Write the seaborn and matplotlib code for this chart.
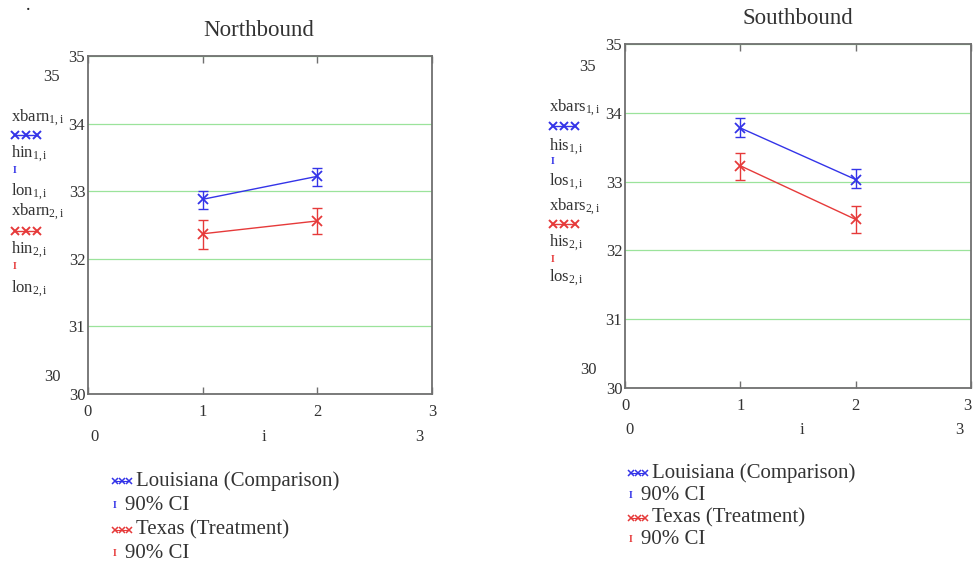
import numpy as np
import pandas as pd
import matplotlib
matplotlib.use("Agg")
import matplotlib.pyplot as plt
import seaborn as sns
from matplotlib.lines import Line2D

# ---------------- data ----------------
x_index = [1, 2]
states = ["Louisiana (Comparison)", "Texas (Treatment)"]
# Northbound means and 90% CI bounds
north_la_mean = [32.88, 33.22]
north_la_hi = [33.01, 33.35]
north_la_lo = [32.74, 33.08]
north_tx_mean = [32.37, 32.56]
north_tx_hi = [32.57, 32.75]
north_tx_lo = [32.15, 32.36]
# Southbound means and 90% CI bounds
south_la_mean = [33.78, 33.03]
south_la_hi = [33.92, 33.18]
south_la_lo = [33.65, 32.90]
south_tx_mean = [33.23, 32.45]
south_tx_hi = [33.42, 32.65]
south_tx_lo = [33.03, 32.26]

panel_titles = ["Northbound", "Southbound"]
y_ticks = [30, 31, 32, 33, 34, 35]
x_ticks = [0, 1, 2, 3]
side_labels_north = ["xbarn", "hin", "lon"]
side_labels_south = ["xbars", "his", "los"]
legend_labels = ["Louisiana (Comparison)", "90% CI", "Texas (Treatment)", "90% CI"]

BLUE = "#3434e8"
RED = "#e63a3a"
TXT = "#333333"
GRID = "#9be39b"
SPINE = "#707070"

sns.set_theme(style="white")
plt.rcParams["font.family"] = ["Liberation Serif", "DejaVu Serif"]
plt.rcParams["mathtext.fontset"] = "custom"
plt.rcParams["mathtext.rm"] = "Liberation Serif"
plt.rcParams["mathtext.it"] = "Liberation Serif:italic"

W, H = 973, 575
fig = plt.figure(figsize=(W / 100, H / 100), dpi=100)
fig.patch.set_facecolor("white")


def fx(px):
    return px / W


def fy(py):
    return 1 - py / H


def make_df(la_m, la_h, la_l, tx_m, tx_h, tx_l):
    rows = []
    for st, m, h, l in [(states[0], la_m, la_h, la_l), (states[1], tx_m, tx_h, tx_l)]:
        for xi, mm, hh, ll in zip(x_index, m, h, l):
            rows.append({"i": xi, "mean": mm, "hi": hh, "lo": ll, "state": st})
    return pd.DataFrame(rows)


panels = [
    dict(rect=[fx(88), fy(394), fx(432) - fx(88), (394 - 56) / H],
         df=make_df(north_la_mean, north_la_hi, north_la_lo, north_tx_mean, north_tx_hi, north_tx_lo),
         title=panel_titles[0], title_xy=(259, 30), side=side_labels_north,
         side_x=11, side_y=[118, 135, 154, 170, 192, 212, 231, 250, 267, 289],
         outer=[(52, 77, "35"), (52, 377, "30")],
         row2=[(0.06, "0"), (1.53, "i"), (2.89, "3")], row2_y=-0.127,
         leg_x=112, leg_y=[481, 505, 530, 554]),
    dict(rect=[fx(625), fy(388), fx(971) - fx(625), (388 - 44) / H],
         df=make_df(south_la_mean, south_la_hi, south_la_lo, south_tx_mean, south_tx_hi, south_tx_lo),
         title=panel_titles[1], title_xy=(798, 19), side=side_labels_south,
         side_x=549, side_y=[108, 126, 147, 161, 182, 207, 224, 243, 259, 278],
         outer=[(588, 67, "35"), (588, 370, "30")],
         row2=[(0.04, "0"), (1.53, "i"), (2.9, "3")], row2_y=-0.122,
         leg_x=628, leg_y=[473, 496, 518, 540]),
]

for pi, p in enumerate(panels):
    ax = fig.add_axes(p["rect"])
    df = p["df"]
    sns.lineplot(data=df, x="i", y="mean", hue="state", style="state",
                 palette=[BLUE, RED], markers={states[0]: "x", states[1]: "x"},
                 dashes=False, markersize=7, markeredgewidth=1.3, linewidth=1.0,
                 legend=False, ax=ax, zorder=3)
    for ln in ax.lines:
        ln.set_markeredgecolor(ln.get_color())
    for st, col in zip(states, [BLUE, RED]):
        d = df[df["state"] == st]
        ax.errorbar(d["i"], d["mean"],
                    yerr=[d["mean"] - d["lo"], d["hi"] - d["mean"]],
                    fmt="none", ecolor=col, elinewidth=1.0, capsize=3.5, capthick=1.0, zorder=3)
    ax.set_xlim(0, 3)
    ax.set_ylim(30, 35)
    ax.set_yticks(y_ticks)
    ax.set_xticks(x_ticks)
    ax.set_xlabel("")
    ax.set_ylabel("")
    ax.grid(axis="y", color=GRID, linewidth=0.9)
    ax.grid(axis="x", visible=False)
    ax.tick_params(axis="y", length=0, pad=2, labelsize=12, labelcolor=TXT)
    ax.tick_params(axis="x", direction="in", length=5, width=1, color=SPINE,
                   top=True, bottom=True, pad=7, labelsize=12, labelcolor=TXT)
    if pi == 1:
        ax.get_xticklabels()[-1].set_horizontalalignment("right")
    for s in ax.spines.values():
        s.set_visible(True)
        s.set_color(SPINE)
        s.set_linewidth(1.3)
    ax.set_facecolor("white")

    # title
    fig.text(fx(p["title_xy"][0]), fy(p["title_xy"][1]), p["title"], ha="center", va="center",
             fontsize=16.5, color=TXT)
    # second row of x labels (limits and variable)
    for xv, t in p["row2"]:
        ax.text(xv, p["row2_y"], t, transform=ax.get_xaxis_transform(), ha="center", va="center",
                fontsize=12, color=TXT)
    # outer axis-limit labels
    for ox, oy, t in p["outer"]:
        fig.text(fx(ox), fy(oy), t, ha="center", va="center", fontsize=12, color=TXT)

    # side labels (variable names with markers)
    sy = p["side_y"]
    sx = p["side_x"]
    names = p["side"]
    entries = [
        ("txt", names[0] + r"$_{\mathrm{1,i}}$", TXT), ("xxx", None, BLUE),
        ("txt", names[1] + r"$_{\mathrm{1,i}}$", TXT), ("ci", None, BLUE),
        ("txt", names[2] + r"$_{\mathrm{1,i}}$", TXT),
        ("txt", names[0] + r"$_{\mathrm{2,i}}$", TXT), ("xxx", None, RED),
        ("txt", names[1] + r"$_{\mathrm{2,i}}$", TXT), ("ci", None, RED),
        ("txt", names[2] + r"$_{\mathrm{2,i}}$", TXT),
    ]
    for (kind, t, col), yy in zip(entries, sy):
        if kind == "txt":
            fig.text(fx(sx), fy(yy), t, ha="left", va="center", fontsize=12, color=TXT)
        elif kind == "xxx":
            fig.add_artist(Line2D([fx(sx + 4), fx(sx + 15), fx(sx + 26)], [fy(yy)] * 3,
                                  transform=fig.transFigure, color=col, lw=1.0,
                                  marker="x", markersize=6, markeredgewidth=1.4))
        else:
            fig.text(fx(sx + 4), fy(yy), "I", ha="center", va="center", fontsize=7,
                     color=col, fontweight="bold")

    # bottom legend
    lx = p["leg_x"]
    ly = p["leg_y"]
    for k, (lab, yy) in enumerate(zip(legend_labels, ly)):
        col = BLUE if k < 2 else RED
        if k % 2 == 0:
            fig.add_artist(Line2D([fx(lx + 3), fx(lx + 10), fx(lx + 17)], [fy(yy)] * 3,
                                  transform=fig.transFigure, color=col, lw=0.8,
                                  marker="x", markersize=4.5, markeredgewidth=1.1))
            fig.text(fx(lx + 24), fy(yy), lab, ha="left", va="center", fontsize=15, color=TXT)
        else:
            fig.text(fx(lx + 3), fy(yy), "I", ha="center", va="center", fontsize=7,
                     color=col, fontweight="bold")
            fig.text(fx(lx + 13), fy(yy), lab, ha="left", va="center", fontsize=15, color=TXT)

fig.text(fx(28), fy(10), "\u00b7", ha="center", va="center", fontsize=14, color="#222222")

fig.savefig("out.png", dpi=100, facecolor="white")
